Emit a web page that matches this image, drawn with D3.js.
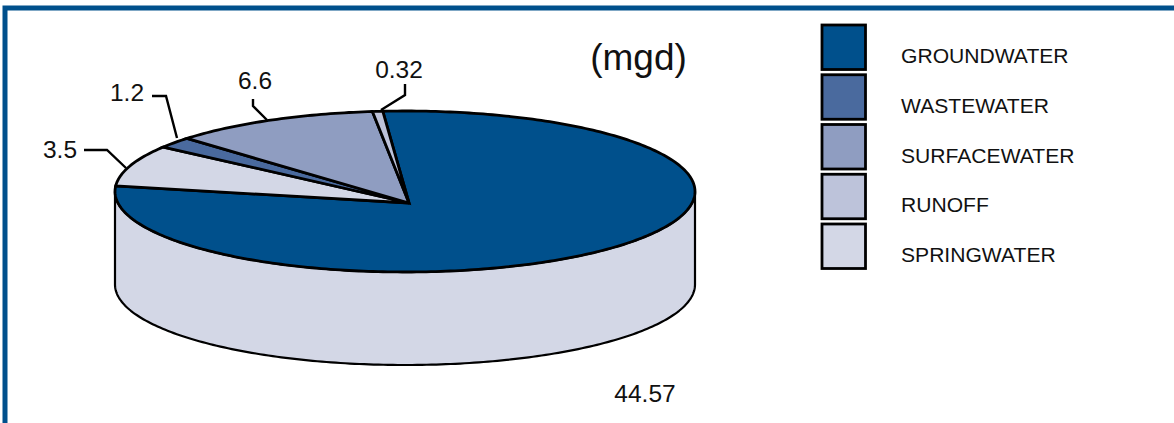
<!DOCTYPE html>
<html>
<head>
<meta charset="utf-8">
<script src="https://cdn.jsdelivr.net/npm/d3@7"></script>
<style>
  html, body { margin: 0; padding: 0; background: #fff; }
  svg { display: block; }
  text { font-family: "Liberation Sans", Arial, sans-serif; fill: #111; }
</style>
</head>
<body>
<div id="chart"></div>
<script>
// data, in the order it goes clockwise round the pie
var categories = ["GROUNDWATER", "SPRINGWATER", "WASTEWATER", "SURFACEWATER", "RUNOFF"];
var mgd = [44.57, 3.5, 1.2, 6.6, 0.32];
// wedge sweep in degrees. it does not follow mgd
// exactly, the spring wedge is drawn wider than 3.5 would give
var sweepDeg = [278.4, 29.55, 7.7, 42.3, 2.05];
var colors = ["#00508c", "#d3d7e6", "#4a6a9e", "#8f9dc1", "#bdc3da"];
var legendOrder = ["GROUNDWATER", "WASTEWATER", "SURFACEWATER", "RUNOFF", "SPRINGWATER"];

var width = 1174, height = 423;
var pieTop = -4.4 * Math.PI / 180;  // where groundwater starts
var wallDrop = 93;
var apex = [409, 203];  // wedges meet here, a bit off the ellipse centre

// unit circle -> rim of the tilted pie
var rimX = d3.scaleLinear().domain([-1, 1]).range([115, 695]);
var rimY = d3.scaleLinear().domain([-1, 1]).range([111, 272]);

function rimPoint(a) {
  return [rimX(Math.sin(a)), rimY(-Math.cos(a))];
}
function rimRun(a0, a1) {
  var n = Math.max(2, Math.ceil(Math.abs(a1 - a0) * 60));
  return d3.range(n + 1).map(function(i) {
    return rimPoint(a0 + (a1 - a0) * i / n);
  });
}

var line = d3.line();
var color = d3.scaleOrdinal().domain(categories).range(colors);

var svg = d3.select("#chart").append("svg")
  .attr("width", width)
  .attr("height", height);

// frame, open on the right and at the bottom
svg.append("path")
  .attr("d", "M5,425V8H1176")
  .attr("fill", "none")
  .attr("stroke", "#00508c")
  .attr("stroke-width", 5);

// side wall
var front = rimRun(Math.PI / 2, 3 * Math.PI / 2);
var lowered = front.slice().reverse().map(function(p) { return [p[0], p[1] + wallDrop]; });
svg.append("path")
  .attr("d", line(front.concat(lowered)) + "Z")
  .attr("fill", "#d3d7e6")
  .attr("stroke", "#000")
  .attr("stroke-width", 2.2)
  .attr("stroke-linejoin", "round");

// top of the pie
var pie = d3.pie()
  .value(function(d) { return d.sweep; })
  .sort(null)
  .startAngle(pieTop)
  .endAngle(pieTop + 2 * Math.PI);

var slices = pie(categories.map(function(c, i) {
  return { name: c, sweep: sweepDeg[i] };
}));

svg.selectAll(".slice")
  .data(slices)
  .enter().append("path")
  .attr("class", "slice")
  .attr("d", function(d) {
    return line([apex].concat(rimRun(d.startAngle, d.endAngle))) + "Z";
  })
  .attr("fill", function(d) { return color(d.data.name); })
  .attr("stroke", "#000")
  .attr("stroke-width", 2.8)
  .attr("stroke-linejoin", "miter");

// value labels and their leaders
var labelSpots = [
  { x: 645, y: 402, leader: null },
  { x: 60, y: 158, leader: [[84, 150], [107, 150], [126, 168]] },
  { x: 127, y: 101, leader: [[152, 96], [166, 96], [177, 138]] },
  { x: 255, y: 89, leader: [[253, 99], [253, 106], [267, 120]] },
  { x: 399, y: 78, leader: [[405, 84], [405, 95], [381, 110]] }
];

labelSpots.forEach(function(s, i) {
  svg.append("text")
    .attr("x", s.x)
    .attr("y", s.y)
    .attr("text-anchor", "middle")
    .style("font-size", "24.5px")
    .text(mgd[i]);
  if (s.leader) {
    svg.append("path")
      .attr("d", line(s.leader))
      .attr("fill", "none")
      .attr("stroke", "#000")
      .attr("stroke-width", 2.4);
  }
});

svg.append("text")
  .attr("x", 638.5)
  .attr("y", 70)
  .attr("text-anchor", "middle")
  .style("font-size", "37px")
  .text("(mgd)");

// legend
var legendY = d3.scalePoint().domain(legendOrder).range([47, 246]);

var legend = svg.selectAll(".legend")
  .data(legendOrder)
  .enter().append("g")
  .attr("class", "legend")
  .attr("transform", function(d) { return "translate(0," + legendY(d) + ")"; });

legend.append("rect")
  .attr("x", 822)
  .attr("y", -22)
  .attr("width", 43.5)
  .attr("height", 44.5)
  .attr("fill", function(d) { return color(d); })
  .attr("stroke", "#000")
  .attr("stroke-width", 2.8);

legend.append("text")
  .attr("x", 901)
  .attr("y", 16)
  .style("font-size", "21.1px")
  .text(function(d) { return d; });
</script>
</body>
</html>
